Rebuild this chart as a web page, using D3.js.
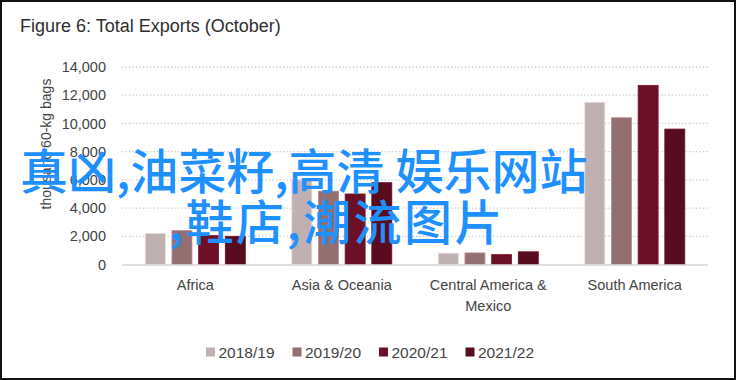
<!DOCTYPE html>
<html>
<head>
<meta charset="utf-8">
<script src="https://cdn.jsdelivr.net/npm/d3@7"></script>
<style>
  html, body { margin: 0; padding: 0; background: #fff; }
  svg { display: block; }
  text { font-family: "Liberation Sans", Arial, sans-serif; }
</style>
</head>
<body>
<svg id="chart" width="736" height="380"></svg>
<script>
// Total exports in October, thousand 60-kg bags
const categories = ["Africa", "Asia & Oceania", "Central America & Mexico", "South America"];
const seriesNames = ["2018/19", "2019/20", "2020/21", "2021/22"];
const exports201819 = [2200, 6000, 800, 11500];
const exports201920 = [2400, 5200, 820, 10400];
const exports202021 = [2050, 5000, 700, 12700];
const exports202122 = [2000, 5800, 900, 9600];
const yTicks = [0, 2000, 4000, 6000, 8000, 10000, 12000, 14000];
const seriesColors = ["#bfb1b1", "#946f72", "#6b1026", "#590c1f"];
const overlayLines = ["真凶,油菜籽,高清 娱乐网站", ",鞋店,潮流图片"];

const seriesValues = [exports201819, exports201920, exports202021, exports202122];
const rows = categories.map((c, i) => ({
  category: c,
  values: seriesNames.map((s, j) => ({ series: s, value: seriesValues[j][i], idx: j }))
}));

const svg = d3.select("#chart");
const W = 736, H = 380;

svg.append("rect").attr("x", 0).attr("y", 0).attr("width", W).attr("height", H).attr("fill", "#fff");

const plot = { left: 122, right: 708, top: 67, bottom: 264.5 };

const x0 = d3.scaleBand().domain(categories).range([plot.left, plot.right]).padding(0);
const x1 = d3.scaleBand().domain(seriesNames).range([23.3, 123.3]).paddingInner(0.25).paddingOuter(0);
const y = d3.scaleLinear().domain([0, 14000]).range([plot.bottom, plot.top]);
const color = d3.scaleOrdinal().domain(seriesNames).range(seriesColors);

// Title
svg.append("text")
  .attr("x", 20).attr("y", 32)
  .attr("font-size", 18)
  .attr("fill", "#2e2e2e")
  .text("Figure 6: Total Exports (October)");

// Dotted gridlines
svg.append("g")
  .selectAll("line")
  .data(yTicks.filter(t => t > 0))
  .join("line")
  .attr("x1", plot.left).attr("x2", plot.right)
  .attr("y1", d => y(d)).attr("y2", d => y(d))
  .attr("stroke", "#c8c8c8")
  .attr("stroke-width", 1.3)
  .attr("stroke-dasharray", "1.3,2.2");

// Y axis tick labels
const yAxis = d3.axisLeft(y).tickValues(yTicks).tickFormat(d3.format(",")).tickSize(0).tickPadding(0);
const gy = svg.append("g").attr("transform", `translate(106,0)`).call(yAxis);
gy.select(".domain").remove();
gy.selectAll("text")
  .attr("font-size", 14.5)
  .attr("fill", "#444")
  .attr("font-family", "'Liberation Sans', Arial, sans-serif");

// Y axis title
svg.append("text")
  .attr("transform", `translate(51,144) rotate(-90)`)
  .attr("text-anchor", "middle")
  .attr("font-size", 14)
  .attr("fill", "#444")
  .text("thousand 60-kg bags");

// Bars
const groups = svg.append("g")
  .selectAll("g")
  .data(rows)
  .join("g")
  .attr("transform", d => `translate(${x0(d.category)},0)`);

groups.selectAll("rect")
  .data(d => d.values)
  .join("rect")
  .attr("x", d => x1(d.series))
  .attr("width", x1.bandwidth())
  .attr("y", d => y(d.value))
  .attr("height", d => y(0) - y(d.value))
  .attr("fill", d => color(d.series))
  .attr("stroke", d => d3.color(color(d.series)).brighter(0.6))
  .attr("stroke-width", 0.8);

// Baseline
svg.append("line")
  .attr("x1", plot.left).attr("x2", plot.right)
  .attr("y1", y(0) + 0.5).attr("y2", y(0) + 0.5)
  .attr("stroke", "#d4d4d4")
  .attr("stroke-width", 1.5);

// Category labels (wrapped)
const xAxis = d3.axisBottom(x0).tickSize(0).tickPadding(0);
const gx = svg.append("g").attr("transform", `translate(0,${plot.bottom})`).call(xAxis);
gx.select(".domain").remove();
gx.selectAll("text").each(function(d) {
  const t = d3.select(this);
  t.text(null).attr("font-size", 14.5).attr("fill", "#444").attr("y", 0).attr("dy", null);
  const lines = d === "Central America & Mexico" ? ["Central America &", "Mexico"] : [d];
  lines.forEach((ln, i) => {
    t.append("tspan").attr("x", 0).attr("y", 25 + i * 21).text(ln);
  });
});

// Legend
const legend = svg.append("g").attr("transform", "translate(206,352)");
const item = legend.selectAll("g")
  .data(seriesNames)
  .join("g")
  .attr("transform", (d, i) => `translate(${i * 86.5},0)`);
item.append("rect")
  .attr("x", 0).attr("y", -4.5)
  .attr("width", 9).attr("height", 9)
  .attr("fill", d => color(d));
item.append("text")
  .attr("x", 12.5).attr("y", 5.5)
  .attr("font-size", 15.5)
  .attr("fill", "#444")
  .text(d => d);

// Overlay caption
const overlay = svg.append("g")
  .attr("font-weight", 500)
  .attr("font-size", 48)
  .attr("fill", "#1e90ff");
overlay.append("text").attr("x", 20).attr("y", 189).style("font-family", "'Noto Sans CJK SC', sans-serif").text(overlayLines[0]);
overlay.append("text").attr("x", 169).attr("y", 240).style("font-family", "'Noto Sans CJK SC', sans-serif")
  .attr("letter-spacing", 2.4).text(overlayLines[1]);

// Frame
svg.append("rect")
  .attr("x", 1).attr("y", 1)
  .attr("width", W - 2).attr("height", H - 2)
  .attr("fill", "none")
  .attr("stroke", "#111")
  .attr("stroke-width", 2);
</script>
</body>
</html>
